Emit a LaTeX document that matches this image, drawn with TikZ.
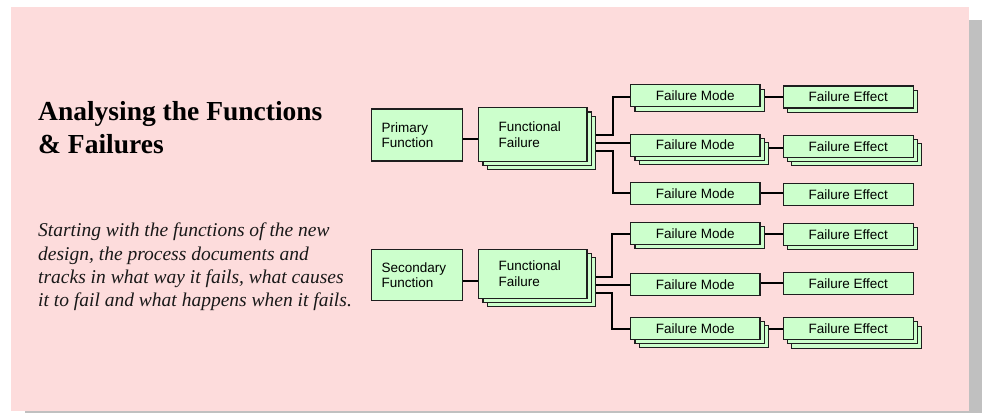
\documentclass[tikz,border=0pt]{standalone}
\usepackage{fontspec}
\setmainfont{Liberation Serif}
\newfontfamily\boxfont{Liberation Sans}
\usetikzlibrary{shadows}
\definecolor{pagepink}{RGB}{253,220,220}
\definecolor{pageshadow}{RGB}{192,192,192}
\definecolor{boxgreen}{RGB}{204,255,204}
\definecolor{boxline}{RGB}{30,30,30}
\pgfdeclarelayer{page}
\pgfdeclarelayer{wires}
\pgfsetlayers{page,wires,main}
\begin{document}
\begin{tikzpicture}[x=1pt,y=-1pt,
  box/.style={draw=boxline, line width=1.1pt, fill=boxgreen, inner sep=0pt,
    font=\boxfont\fontsize{13.5}{15.5}\selectfont, align=center,
    minimum width=129.3pt, minimum height=22pt},
  febox/.style={box, minimum width=130pt},
  fnbox/.style={box, align=left, minimum width=91pt, minimum height=52pt, text width=71pt},
  ffbox/.style={box, align=left, minimum width=108.3pt, minimum height=53.6pt, text width=68.3pt},
  copyone/.style={general shadow={shadow xshift=#1, shadow yshift=-#1,
    draw=boxline, fill=boxgreen, line width=1.1pt}},
  stacktwo/.style={copyone=4.3pt},
  stackthree/.style={copyone=8.6pt, copyone=4.3pt},
  conn/.style={line width=2pt, draw=black},
  title/.style={font=\bfseries\fontsize{27.5}{33}\selectfont, align=left, inner sep=0pt},
  body/.style={font=\itshape\fontsize{19.5}{23.3}\selectfont, align=left, inner sep=0pt, text=black!90}
]
\useasboundingbox (0,0) rectangle (984,412);

% page with its drop shadow
\begin{pgfonlayer}{page}
  \fill[pageshadow] (25,20) rectangle (982,425);
  \fill[pagepink] (10.5,6.7) rectangle (969.3,410.5);
\end{pgfonlayer}

% left-hand text (base anchor sits on the last line)
\node[title, anchor=base west] (title) at (38,153.3) {Analysing the Functions\\\& Failures};
\node[body, anchor=base west] (desc) at (38,306.7)
  {Starting with the functions of the new\\design, the process documents and\\tracks in what way it fails, what causes\\it to fail and what happens when it fails.};

% upper tree: primary function
\node[fnbox] (pf1) at (417.2,135) {Primary\\Function};
\node[ffbox, stackthree] (ff1) at (532.85,134.5) {Functional\\Failure};
\node[box, stacktwo] (fm1) at (695.35,95.85) {Failure Mode};
\node[box, stackthree] (fm2) at (695.35,145.15) {Failure Mode};
\node[box] (fm3) at (695.35,193.8) {Failure Mode};
\node[febox, stacktwo] (fe1) at (848.3,97) {Failure Effect};
\node[febox, stackthree] (fe2) at (848.3,146.2) {Failure Effect};
\node[febox] (fe3) at (848.3,194.5) {Failure Effect};

% lower tree: secondary function
\node[fnbox, minimum height=51.4pt] (pf2) at (417.2,275) {Secondary\\Function};
\node[ffbox, stackthree, minimum height=49pt] (ff2) at (532.85,273.8) {Functional\\Failure};
\node[box, stacktwo] (fm4) at (695.35,233.3) {Failure Mode};
\node[box] (fm5) at (695.35,284.3) {Failure Mode};
\node[box, stackthree] (fm6) at (695.35,328.3) {Failure Mode};
\node[febox, stacktwo] (fe4) at (848.3,234.2) {Failure Effect};
\node[febox] (fe5) at (848.3,283.3) {Failure Effect};
\node[febox, stackthree] (fe6) at (848.3,328.5) {Failure Effect};

% wire levels and junctions
\coordinate (u0) at (0,139);
\coordinate (uT) at (612.7,135);
\coordinate (uM) at (0,143.3);
\coordinate (uB) at (612.7,151);
\coordinate (uL1) at (0,97.3);
\coordinate (uL2) at (0,148);
\coordinate (uL3) at (0,193.3);
\coordinate (l0) at (0,280.7);
\coordinate (lT) at (611.7,276.7);
\coordinate (lM) at (0,285.3);
\coordinate (lB) at (611.7,293.3);
\coordinate (lL1) at (0,234);
\coordinate (lL2) at (0,282.7);
\coordinate (lL3) at (0,329);

\begin{pgfonlayer}{wires}
  % upper tree
  \draw[conn] (pf1.east |- u0) -- (ff1.west |- u0);
  \draw[conn] (ff1.east |- uT) -- (uT) |- (fm1.west |- uL1);
  \draw[conn] (ff1.east |- uM) -- (fm2.west |- uM);
  \draw[conn] (ff1.east |- uB) -- (uB) |- (fm3.west |- uL3);
  \draw[conn] (fm1.east |- uL1) -- (fe1.west |- uL1);
  \draw[conn] (fm2.east |- uL2) -- (fe2.west |- uL2);
  \draw[conn] (fm3.east |- uL3) -- (fe3.west |- uL3);
  % lower tree
  \draw[conn] (pf2.east |- l0) -- (ff2.west |- l0);
  \draw[conn] (ff2.east |- lT) -- (lT) |- (fm4.west |- lL1);
  \draw[conn] (ff2.east |- lM) -- (fm5.west |- lM);
  \draw[conn] (ff2.east |- lB) -- (lB) |- (fm6.west |- lL3);
  \draw[conn] (fm4.east |- lL1) -- (fe4.west |- lL1);
  \draw[conn] (fm5.east |- lL2) -- (fe5.west |- lL2);
  \draw[conn] (fm6.east |- lL3) -- (fe6.west |- lL3);
\end{pgfonlayer}
\end{tikzpicture}
\end{document}
